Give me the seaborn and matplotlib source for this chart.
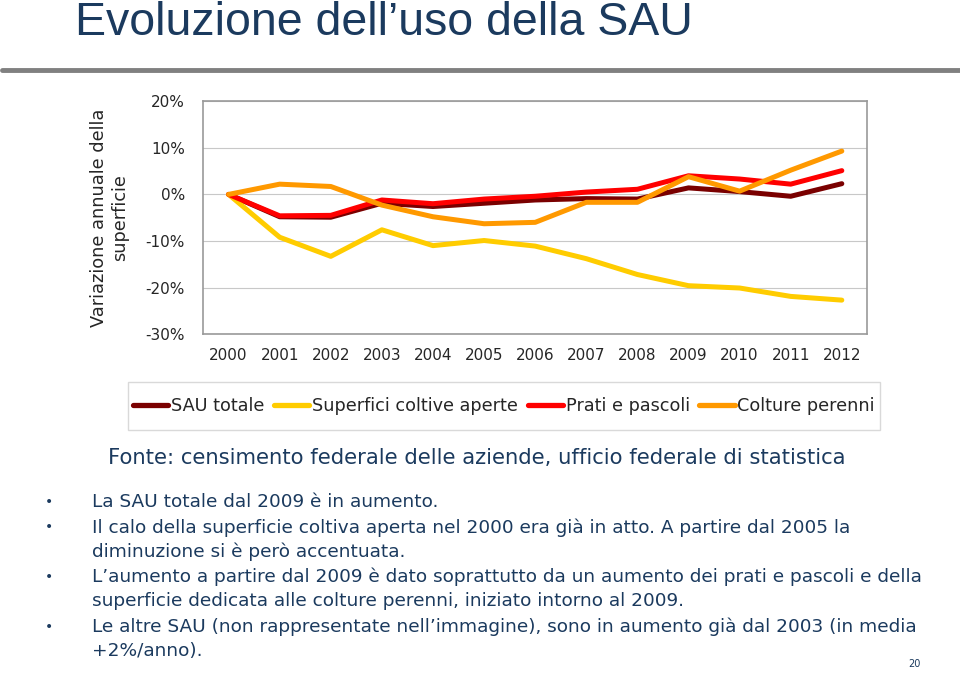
import matplotlib
matplotlib.use("Agg")
import matplotlib.pyplot as plt
import matplotlib.ticker as mticker
from matplotlib.patches import Rectangle
import seaborn as sns
import pandas as pd

# values (% change vs 2000)
anni = [2000, 2001, 2002, 2003, 2004, 2005, 2006, 2007, 2008, 2009, 2010, 2011, 2012]
sau_totale = [0, -4.8, -4.9, -1.9, -2.6, -1.9, -1.2, -0.9, -1.0, 1.4, 0.6, -0.4, 2.3]
coltive_aperte = [0, -9.2, -13.3, -7.6, -11.0, -9.9, -11.1, -13.8, -17.2, -19.6, -20.1, -21.9, -22.7]
prati_pascoli = [0, -4.6, -4.5, -1.2, -2.0, -1.0, -0.4, 0.5, 1.1, 4.0, 3.3, 2.2, 5.1]
colture_perenni = [0, 2.2, 1.7, -2.3, -4.8, -6.3, -6.0, -1.7, -1.7, 3.8, 0.7, 5.2, 9.3]

serie = ["SAU totale", "Superfici coltive aperte", "Prati e pascoli", "Colture perenni"]
colori = ["#7A0000", "#FFCC00", "#FF0000", "#FF9900"]

bullets = [
    "La SAU totale dal 2009 è in aumento.",
    "Il calo della superficie coltiva aperta nel 2000 era già in atto. A partire dal 2005 la\ndiminuzione si è però accentuata.",
    "L’aumento a partire dal 2009 è dato soprattutto da un aumento dei prati e pascoli e della\nsuperficie dedicata alle colture perenni, iniziato intorno al 2009.",
    "Le altre SAU (non rappresentate nell’immagine), sono in aumento già dal 2003 (in media\n+2%/anno).",
]

df = pd.DataFrame({"Anno": anni * 4,
                   "Valore": sau_totale + coltive_aperte + prati_pascoli + colture_perenni,
                   "Serie": sum([[s] * len(anni) for s in serie], [])})
df["Anno"] = df["Anno"].astype(str)

sns.set_style("white")
plt.rcParams['font.family'] = ['DejaVu Sans']
navy = "#1B3A5E"

fig = plt.figure(figsize=(9.6, 6.75), dpi=100)
ax = fig.add_axes([0.2115, 0.505, 0.692, 0.345])

sns.lineplot(data=df, x="Anno", y="Valore", hue="Serie", hue_order=serie,
             palette=colori, linewidth=3.6, sort=False, ax=ax, legend=False)

ax.set_ylim(-30, 20)
ax.set_xlim(-0.5, 12.5)
ax.yaxis.set_major_locator(mticker.MultipleLocator(10))
ax.yaxis.set_major_formatter(mticker.FuncFormatter(lambda v, p: "%d%%" % v))
ax.grid(axis="y", color="#C8C8C8", linewidth=0.8)
for s in ax.spines.values():
    s.set_color("#999999")
    s.set_linewidth(1.2)
ax.tick_params(axis="y", labelsize=11, pad=13, length=0)
ax.tick_params(axis="x", labelsize=11, pad=10, length=0)
ax.set_xlabel("")
ax.set_ylabel("Variazione annuale della\nsuperficie", fontsize=12.8, labelpad=12)

# legend (box drawn separately: wide vertical, tight horizontal padding)
fig.add_artist(Rectangle((128 / 960, 1 - 430 / 675), 752 / 960, 48 / 675,
                         transform=fig.transFigure, facecolor="white",
                         edgecolor="#D9D9D9", linewidth=1.0))
handles = [plt.Line2D([], [], color=c, linewidth=3.8) for c in colori]
fig.legend(handles, serie, loc="center", bbox_to_anchor=(504 / 960, 0.3985), ncol=4,
           fontsize=12.7, frameon=False, handlelength=2.0,
           handletextpad=0.15, columnspacing=0.55, borderpad=0.2)

# title and rule
fig.text(0.078, 0.948, "Evoluzione dell’uso della SAU", fontsize=33.5, color=navy,
         va="baseline", family=['Liberation Sans Narrow', 'Liberation Sans'])
fig.add_artist(plt.Line2D([0.002, 1.0], [0.896, 0.896], color="#808080", linewidth=3.5))

fig.text(0.112, 0.322, "Fonte: censimento federale delle aziende, ufficio federale di statistica",
         fontsize=15.2, color=navy, va="center")

# bullet list, one text per line
y = 502
for b in bullets:
    fig.text(0.047, 1 - y / 675, "•", fontsize=10, color=navy, va="center")
    for riga in b.split("\n"):
        fig.text(0.096, 1 - y / 675, riga, fontsize=13.3, color=navy, va="center")
        y += 24
    y += 1.5

fig.text(0.953, 0.012, "20", fontsize=7, color=navy, ha="center")

fig.savefig("out.png", dpi=100)
